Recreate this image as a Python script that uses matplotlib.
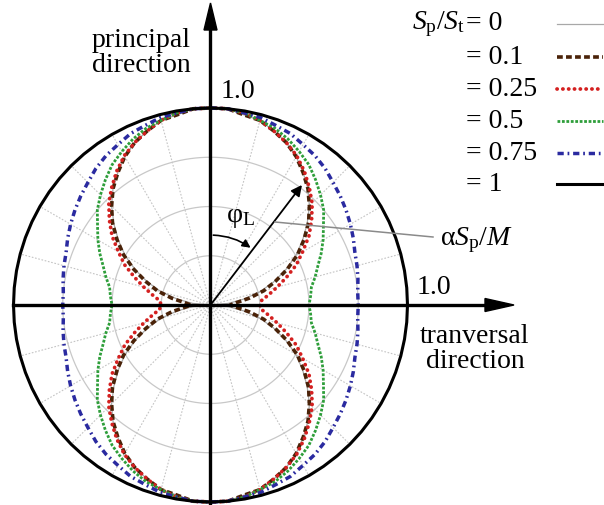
import numpy as np
import matplotlib.pyplot as plt
from matplotlib.patches import Polygon, FancyArrowPatch

plt.rcParams['font.family'] = 'Liberation Serif'
plt.rcParams['mathtext.fontset'] = 'custom'
plt.rcParams['mathtext.rm'] = 'Liberation Serif'
plt.rcParams['mathtext.it'] = 'Liberation Serif:italic'

# angle from the principal direction (deg), one quadrant; the rest follows by symmetry
phi_deg = [0, 5, 10, 15, 20, 25, 30, 35, 40, 45, 50, 55, 60, 65, 70, 75, 80, 85, 90]

# normalised radius for each stress ratio Sp/St
r_00 = [1.00, 1.00, 0.98, 0.97, 0.94, 0.91, 0.87, 0.82, 0.77, 0.71,
        0.64, 0.57, 0.50, 0.42, 0.34, 0.26, 0.17, 0.09, 0.00]
r_01 = [1.00, 1.00, 0.98, 0.97, 0.94, 0.91, 0.87, 0.82, 0.77, 0.71,
        0.65, 0.58, 0.51, 0.43, 0.35, 0.28, 0.20, 0.13, 0.10]
r_025 = [1.00, 1.00, 0.99, 0.97, 0.94, 0.91, 0.875, 0.83, 0.78, 0.73,
         0.67, 0.61, 0.54, 0.48, 0.41, 0.35, 0.30, 0.26, 0.25]
r_05 = [1.00, 1.00, 0.99, 0.97, 0.955, 0.93, 0.90, 0.87, 0.83, 0.79,
        0.75, 0.70, 0.66, 0.62, 0.58, 0.55, 0.52, 0.51, 0.50]
r_075 = [1.00, 1.00, 0.99, 0.985, 0.97, 0.96, 0.94, 0.925, 0.905, 0.88,
         0.86, 0.84, 0.82, 0.80, 0.78, 0.77, 0.76, 0.75, 0.75]
r_10 = [1.00] * 19

ratio_labels = ['0', '0.1', '0.25', '0.5', '0.75', '1']

# pixel -> data units (origin of the diagram, 197 px per unit radius)
OX, OY, S = 210.5, 305.0, 197.0


def px(x, y):
    return (x - OX) / S, (OY - y) / S


def full_curve(r):
    a = np.radians(phi_deg)
    r = np.asarray(r, dtype=float)
    ang = np.concatenate([a, np.pi - a[::-1], np.pi + a, 2 * np.pi - a[::-1]])
    rr = np.concatenate([r, r[::-1], r, r[::-1]])
    return rr * np.sin(ang), rr * np.cos(ang)


styles = [
    dict(color='#a8a8a8', lw=0.9, ls='-'),
    dict(color='#4a2208', lw=2.6, ls=(0, (1.6, 0.9))),
    dict(color='#d42020', lw=2.7, ls=(0, (0.05, 1.5)), dash_capstyle='round'),
    dict(color='#2e9e3a', lw=2.0, ls=(0, (1, 0.6))),
    dict(color='#2a2aa0', lw=2.5, ls=(0, (1.8, 1.1, 0.5, 1.1))),
    dict(color='black', lw=2.2, ls='-'),
]

fig = plt.figure(figsize=(6.04, 5.05), dpi=100)
ax = fig.add_axes([0, 0, 1, 1])
ax.set_xlim(px(0, 0)[0], px(604, 0)[0])
ax.set_ylim(px(0, 505)[1], px(0, 0)[1])
ax.set_aspect('equal')
ax.axis('off')

# grid: radial rays every 15 deg and rings
for g in np.arange(0, 360, 15):
    t = np.radians(g)
    ax.plot([0, np.sin(t)], [0, np.cos(t)], color='#c4c4c4', lw=0.8,
            ls=(0, (1.5, 1.5)), zorder=1)
tt = np.linspace(0, 2 * np.pi, 361)
for rg in [0.25, 0.5, 0.75]:
    ax.plot(rg * np.sin(tt), rg * np.cos(tt), color='#c8c8c8', lw=0.9, zorder=1)

# curves
for r, st in zip([r_00, r_01, r_025, r_05, r_075, r_10], styles):
    x, y = full_curve(r)
    ax.plot(x, y, zorder=3, **st)

# axes with arrow heads
ax.plot(*zip(px(210.5, 505), px(210.5, 28)), color='black', lw=2.4, zorder=4)
ax.add_patch(Polygon([px(210.5, 3), px(204, 30), px(217, 30)],
                     closed=True, color='black', zorder=4))
ax.plot(*zip(px(13, 305), px(487, 305)), color='black', lw=2.4, zorder=4)
ax.add_patch(Polygon([px(514, 305), px(485, 298.5), px(485, 311.5)],
                     closed=True, color='black', zorder=4))

fs = 20
ax.text(*px(141, 53), 'principal\ndirection', ha='center', va='center',
        fontsize=fs, linespacing=1.05)
ax.text(*px(221, 91), '1.0', ha='left', va='center', fontsize=fs)
ax.text(*px(417, 287), '1.0', ha='left', va='center', fontsize=fs)
ax.text(*px(475, 349), 'tranversal\ndirection', ha='center', va='center',
        fontsize=fs, linespacing=1.05)

# loading direction arrow, angle arc and leader
phi_L = np.radians(37.3)
tip = (0.766 * np.sin(phi_L), 0.766 * np.cos(phi_L))
ax.annotate('', xy=tip, xytext=(0, 0),
            arrowprops=dict(arrowstyle='-|>', lw=1.3, color='black',
                            mutation_scale=16, shrinkA=0, shrinkB=0), zorder=5)
ra = 0.355
arc = FancyArrowPatch((0, ra), (ra * np.sin(phi_L), ra * np.cos(phi_L)),
                      connectionstyle='arc3,rad=-0.165', arrowstyle='-|>',
                      mutation_scale=12, lw=1.2, color='black', zorder=5)
ax.add_patch(arc)
ax.text(*px(226, 218), r'φ$_{\rm L}$', ha='left', va='center', fontsize=fs)
ax.plot(*zip(px(275, 222), px(433, 237)), color='#8a8a8a', lw=1.1, zorder=5)
ax.text(*px(440, 240), r'α$S_{\rm p}/M$', ha='left', va='center', fontsize=fs)

# legend
row_y = [24, 57, 89, 121, 153, 184]
for i, (lab, st) in enumerate(zip(ratio_labels, styles)):
    y = row_y[i]
    ax.text(*px(466, y), '= ' + lab, ha='left', va='center', fontsize=20)
    ax.plot(*zip(px(557, y), px(603, y)), **st)
ax.text(*px(465, 24), r'$S_{\rm p}/S_{\rm t}$', ha='right', va='center', fontsize=20)

fig.savefig('out.png', dpi=100)
